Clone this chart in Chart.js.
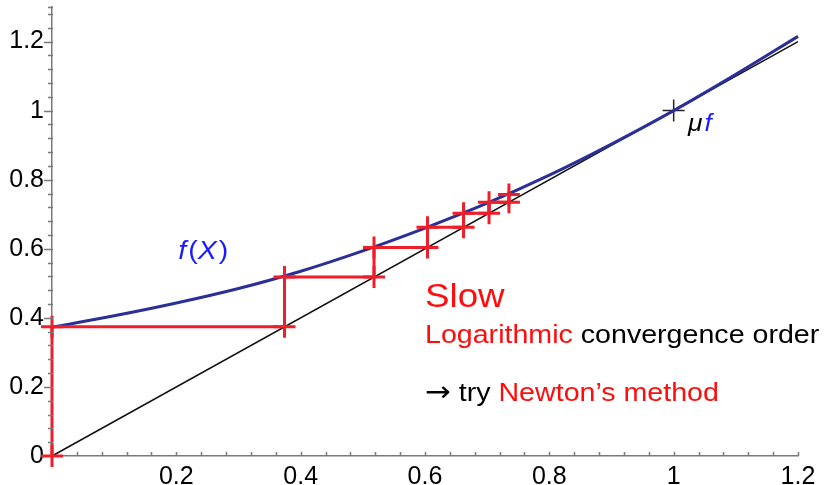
<!DOCTYPE html>
<html>
<head>
<meta charset="utf-8">
<title>Fixed-point iteration</title>
<script src="https://cdn.jsdelivr.net/npm/chart.js@4/dist/chart.umd.min.js"></script>
<style>
  html, body { margin: 0; padding: 0; background: #fff; }
  canvas { display: block; }
</style>
</head>
<body>
<canvas id="chart" width="826" height="485"></canvas>
<script>
// f(X)
const curveX = [0, 0.1, 0.2, 0.3, 0.4, 0.5, 0.6, 0.7, 0.8, 0.9, 1.0, 1.1, 1.2];
const curveY = [0.373, 0.406, 0.443, 0.485, 0.535, 0.594, 0.660, 0.732, 0.813, 0.903, 1.0, 1.105, 1.215];

// diagonal y = x
const diagX = [0, 1.2];
const diagY = [0, 1.2];

// iterates x(n+1) = f(x(n))
const iterates = [0, 0.374, 0.518, 0.604, 0.662, 0.703, 0.735, 0.757];

// fixed point
const fixedX = [1];
const fixedY = [1];

const xTickLabels = ["0.2", "0.4", "0.6", "0.8", "1", "1.2"];
const yTickLabels = ["0", "0.2", "0.4", "0.6", "0.8", "1", "1.2"];

const RED = "#ec1f2a";
const TEXT_RED = "#ff0d0d";
const BLUE = "#1a1aff";
const AXIS = "#7a7a7a";
const FONT = "'Liberation Sans', Arial, sans-serif";

const zip = (xs, ys) => xs.map((x, i) => ({ x: x, y: ys[i] }));

// staircase: (x_n, x_n) -> (x_n, x_n+1)
const stepPts = [];
for (let i = 0; i < iterates.length - 1; i++) {
    stepPts.push({ x: iterates[i], y: iterates[i] });
    stepPts.push({ x: iterates[i], y: iterates[i + 1] });
}

function tickLabel(labels, value) {
    const v = Math.round(value * 100) / 100;
    const hit = labels.find(l => Math.abs(parseFloat(l) - v) < 1e-6);
    return hit === undefined ? "" : hit;
}

const isMajor = v => Math.round(Math.round(v * 100)) % 20 === 0;

// drop ticks past the axis end
const trimTicks = s => {
    s.ticks = s.ticks.filter(t => t.value <= s.options.max + 1e-9);
};

// text notes placed in data coordinates
// each part: [text, colour, size, italic, family]
const notes = [
    { x: 0.203, y: 0.571, parts: [["f", BLUE, 26, true], ["(", BLUE, 26, false], ["X", BLUE, 26, true], [")", BLUE, 26, false]] },
    { x: 1.023, y: 0.941, parts: [["\u03bc", "#000", 24, true], ["f", BLUE, 24, true]] },
    { x: 0.600, y: 0.431, parts: [["Slow", TEXT_RED, 34, false]] },
    { x: 0.600, y: 0.327, parts: [["Logarithmic", TEXT_RED, 26, false], [" convergence order", "#000", 26, false]] },
    { x: 0.600, y: 0.160, parts: [["\u2192", "#000", 28, false, "'DejaVu Sans'"], [" try ", "#000", 26, false], ["Newton\u2019s method", TEXT_RED, 26, false]] }
];

const notesPlugin = {
    id: "notes",
    afterDatasetsDraw(chart) {
        const ctx = chart.ctx;
        const xs = chart.scales.x, ys = chart.scales.y;
        notes.forEach(n => {
            let px = xs.getPixelForValue(n.x);
            const py = ys.getPixelForValue(n.y);
            n.parts.forEach(p => {
                const sx = p[0] === "Slow" ? 1.08 : 1.1;
                ctx.save();
                ctx.font = (p[3] ? "italic " : "") + p[2] + "px " + (p[4] || FONT);
                ctx.fillStyle = p[1];
                ctx.textBaseline = "alphabetic";
                ctx.translate(px, py);
                ctx.scale(sx, 1);
                ctx.fillText(p[0], 0, 0);
                px += ctx.measureText(p[0]).width * sx + (p[3] ? 2 : 0);
                ctx.restore();
            });
        });
    }
};

// maple-style tick marks: x ticks point up, y ticks point left
const tickMarks = {
    id: "tickMarks",
    afterDraw(chart) {
        const ctx = chart.ctx;
        const xs = chart.scales.x, ys = chart.scales.y;
        const area = chart.chartArea;
        ctx.save();
        ctx.strokeStyle = AXIS;
        ctx.lineWidth = 1.5;
        ctx.beginPath();
        xs.ticks.forEach(t => {
            if (t.value === 0) return;
            const px = Math.round(xs.getPixelForValue(t.value)) + 0.5;
            ctx.moveTo(px, area.bottom);
            ctx.lineTo(px, area.bottom - 4);
        });
        ys.ticks.forEach(t => {
            if (t.value === 0) return;
            const py = Math.round(ys.getPixelForValue(t.value)) + 0.5;
            const len = isMajor(t.value) ? 8 : 4;
            ctx.moveTo(area.left - len, py);
            ctx.lineTo(area.left + 1, py);
        });
        ctx.stroke();
        ctx.restore();
    }
};

new Chart(document.getElementById("chart"), {
    type: "line",
    data: {
        datasets: [
            {
                label: "iteration",
                data: stepPts,
                borderColor: RED,
                borderWidth: 3,
                pointStyle: "cross",
                pointRadius: 11,
                pointBorderWidth: 3,
                pointBorderColor: RED,
                tension: 0,
                clip: false,
                order: 0
            },
            {
                label: "f(X)",
                data: zip(curveX, curveY),
                borderColor: "#2b2f96",
                borderWidth: 3,
                pointRadius: 0,
                cubicInterpolationMode: "monotone",
                clip: false,
                order: 1
            },
            {
                label: "mu f",
                data: zip(fixedX, fixedY),
                showLine: false,
                pointStyle: "cross",
                pointRadius: 11,
                pointBorderWidth: 1.5,
                pointBorderColor: "#222",
                order: 2
            },
            {
                label: "y = x",
                data: zip(diagX, diagY),
                borderColor: "#111",
                borderWidth: 1.5,
                pointRadius: 0,
                clip: false,
                order: 3
            }
        ]
    },
    options: {
        responsive: false,
        devicePixelRatio: 1,
        animation: false,
        layout: { autoPadding: false, padding: { top: 7, right: 28, left: 0, bottom: 0 } },
        plugins: {
            legend: { display: false },
            tooltip: { enabled: false }
        },
        scales: {
            x: {
                type: "linear",
                bounds: "data",
                min: 0,
                max: 1.2,
                border: { display: true, color: AXIS, width: 1.5 },
                grid: { display: false, drawTicks: false, tickLength: 0 },
                ticks: {
                    stepSize: 0.04,
                    autoSkip: false,
                    maxRotation: 0,
                    padding: 6,
                    color: "#000",
                    font: { family: FONT, size: 25 },
                    callback: v => tickLabel(xTickLabels, v)
                },
                afterBuildTicks: trimTicks,
                afterFit: s => {
                    s.height = 29;
                    s.paddingLeft = 0;
                    s.paddingRight = 0;
                }
            },
            y: {
                type: "linear",
                bounds: "data",
                min: 0,
                max: 1.3,
                border: { display: true, color: AXIS, width: 1.5 },
                grid: { display: false, drawTicks: false, tickLength: 0 },
                ticks: {
                    stepSize: 0.04,
                    autoSkip: false,
                    padding: 8,
                    color: "#000",
                    font: { family: FONT, size: 25 },
                    callback: v => tickLabel(yTickLabels, v)
                },
                afterBuildTicks: trimTicks,
                afterFit: s => {
                    s.width = 52;
                    s.paddingTop = 0;
                    s.paddingBottom = 0;
                }
            }
        }
    },
    plugins: [notesPlugin, tickMarks]
});
</script>
</body>
</html>
